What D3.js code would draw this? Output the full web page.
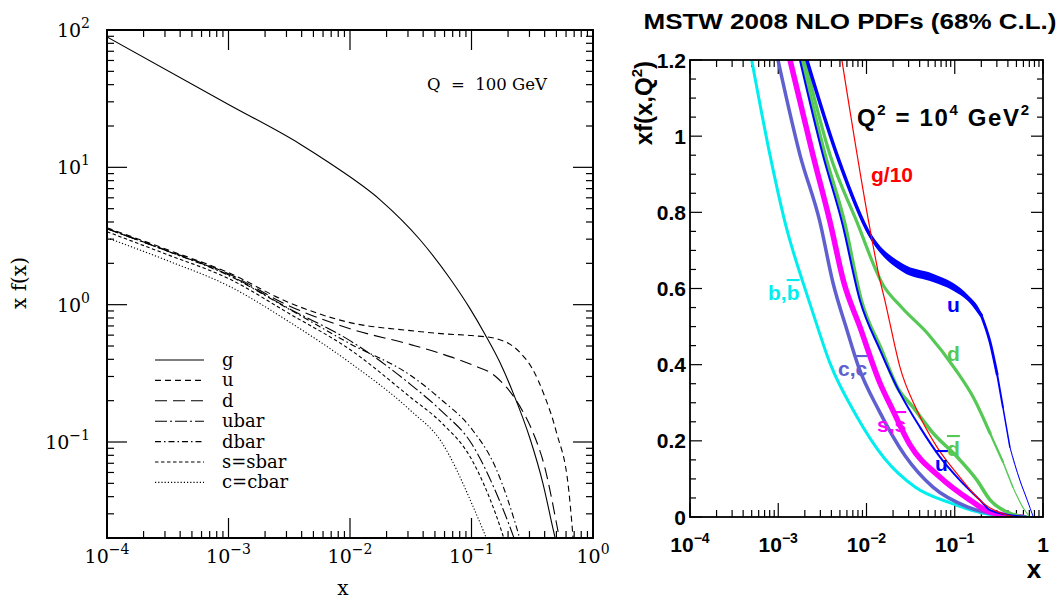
<!DOCTYPE html>
<html><head><meta charset="utf-8">
<script src="https://cdn.jsdelivr.net/npm/d3@7"></script>
<style>body{margin:0;background:#fff}</style></head>
<body><svg id="c" width="1061" height="599"></svg>
<script>
// ---------------- LEFT PANEL DATA (Q = 100 GeV) ----------------
const gLeftX   = [1e-4, 1e-3, 3.87e-3, 6.84e-3, 0.0177, 0.0377, 0.0665, 0.0972, 0.129, 0.1716, 0.2196, 0.303, 0.388, 0.469, 0.535];
const gVals    = [89, 28.7, 14.8, 10.7, 5.8, 2.97, 1.55, 0.936, 0.61, 0.379, 0.229, 0.106, 0.0496, 0.0233, 0.014];
const leftX    = [1e-4, 3.16e-4, 1e-3, 3.16e-3, 0.01, 0.0316, 0.0562, 0.1, 0.158, 0.251, 0.316, 0.398, 0.501, 0.631, 0.708];
const uVals    = [3.63, 2.51, 1.71, 1.035, 0.74, 0.647, 0.615, 0.596, 0.567, 0.448, 0.343, 0.218, 0.117, 0.045, 0.014];
const dVals    = [3.57, 2.47, 1.68, 0.98, 0.668, 0.512, 0.44, 0.366, 0.30, 0.181, 0.121, 0.067, 0.0255, 0.008, 0.004];
const ubarVals = [3.57, 2.45, 1.65, 0.935, 0.547, 0.262, 0.169, 0.0975, 0.0436, 0.015, 0.008, 0.004, 0.002, 0.001, 0.001];
const dbarVals = [3.57, 2.45, 1.63, 0.926, 0.52, 0.305, 0.204, 0.125, 0.065, 0.0195, 0.009, 0.004, 0.002, 0.001, 0.001];
const sVals    = [3.40, 2.31, 1.55, 0.861, 0.471, 0.211, 0.139, 0.075, 0.030, 0.008, 0.004, 0.002, 0.001, 0.001, 0.001];
const cVals    = [3.07, 2.09, 1.37, 0.75, 0.378, 0.169, 0.101, 0.036, 0.0129, 0.003, 0.002, 0.001, 0.001, 0.001, 0.001];
const leftNames = ["g", "u", "d", "ubar", "dbar", "s=sbar", "c=cbar"];
const leftXTickLabels = ["−4", "−3", "−2", "−1", "0"];
const leftYTickLabels = ["2", "1", "0", "−1"];

// ---------------- RIGHT PANEL DATA (Q^2 = 10^4 GeV^2) ----------------
const bX = [5.0e-4, 8.05e-4, 1.245e-3, 1.905e-3, 2.47e-3, 3.855e-3, 7.59e-3, 0.01585, 0.0355, 0.0891, 0.1995, 0.447];
const bY = [1.2, 0.951, 0.757, 0.616, 0.536, 0.404, 0.268, 0.155, 0.079, 0.037, 0.011, 0];
const cX = [9.93e-4, 1.762e-3, 2.965e-3, 4.17e-3, 6.0e-3, 8.13e-3, 0.0138, 0.0275, 0.0562, 0.141, 0.316, 0.631];
const cY = [1.2, 0.951, 0.775, 0.615, 0.491, 0.394, 0.28, 0.16, 0.079, 0.026, 0.006, 0];
const sX = [1.36e-3, 2.47e-3, 3.86e-3, 5.55e-3, 8.4e-3, 0.0142, 0.0199, 0.031, 0.0678, 0.148, 0.251, 0.589];
const sY = [1.2, 0.951, 0.775, 0.615, 0.5, 0.352, 0.28, 0.19, 0.105, 0.045, 0.013, 0];
const ubarX = [1.76e-3, 3.2e-3, 5.26e-3, 8.4e-3, 0.0142, 0.0239, 0.0403, 0.0678, 0.114, 0.192, 0.251, 0.447, 0.708];
const ubarY = [1.2, 0.951, 0.775, 0.570, 0.439, 0.326, 0.236, 0.158, 0.097, 0.045, 0.018, 0.004, 0];
const dbarX = [1.86e-3, 3.39e-3, 5.62e-3, 8.7e-3, 0.0148, 0.0224, 0.0335, 0.0565, 0.106, 0.178, 0.251, 0.398, 0.631];
const dbarY = [1.2, 0.951, 0.775, 0.570, 0.439, 0.34, 0.289, 0.221, 0.158, 0.097, 0.045, 0.012, 0];
const dX = [2.0e-3, 3.86e-3, 7.78e-3, 0.01535, 0.0251, 0.0501, 0.1, 0.166, 0.251, 0.351, 0.455, 0.589, 0.708];
const dY = [1.2, 0.951, 0.775, 0.61, 0.55, 0.48, 0.39, 0.31, 0.22, 0.145, 0.079, 0.026, 0];
const uX = [2.11e-3, 4.62e-3, 0.0109, 0.0258, 0.0565, 0.0951, 0.141, 0.1995, 0.251, 0.302, 0.351, 0.421, 0.546, 0.661, 0.776];
const uY = [1.2, 0.951, 0.741, 0.654, 0.628, 0.605, 0.575, 0.53, 0.46, 0.375, 0.289, 0.184, 0.097, 0.045, 0];
const uErr = [0.004, 0.005, 0.008, 0.011, 0.011, 0.010, 0.008, 0.006, 0.004, 0.003, 0.002, 0.001, 0.001, 0.0005, 0];
const gX = [5.26e-3, 0.0109, 0.0142, 0.0161, 0.0184, 0.0239, 0.0372, 0.0627, 0.114, 0.208, 0.355, 0.501];
const gY = [1.2, 0.759, 0.622, 0.570, 0.509, 0.394, 0.281, 0.184, 0.105, 0.037, 0.008, 0];
const rightYTickLabels = ["0", "0.2", "0.4", "0.6", "0.8", "1", "1.2"];
const rightXTickLabels = ["−4", "−3", "−2", "−1", ""];

// ---------------- DRAWING ----------------
const svg = d3.select("#c");
const SERIF = "'DejaVu Serif', serif";
const SANS = "'Liberation Sans', Arial, sans-serif";

function isDecade(v){ const l = Math.log10(v); return Math.abs(l - Math.round(l)) < 1e-9; }

// ===== LEFT =====
const L = {x0:107, x1:593, y0:30, y1:538};
const lx = d3.scaleLog().domain([1e-4, 1]).range([L.x0, L.x1]);
const ly = d3.scaleLog().domain([0.02, 100]).range([L.y1, L.y0]);
const gl = svg.append("g");
gl.append("clipPath").attr("id","clipL").append("rect")
  .attr("x", L.x0).attr("y", L.y0).attr("width", L.x1-L.x0).attr("height", L.y1-L.y0);

lx.ticks().forEach(v => {
  const X = lx(v), len = isDecade(v) ? 20 : 7;
  gl.append("line").attr("x1",X).attr("x2",X).attr("y1",L.y1).attr("y2",L.y1-len).attr("stroke","#000").attr("stroke-width",1.2);
  gl.append("line").attr("x1",X).attr("x2",X).attr("y1",L.y0).attr("y2",L.y0+len).attr("stroke","#000").attr("stroke-width",1.2);
});
ly.ticks().forEach(v => {
  const Y = ly(v), len = isDecade(v) ? 20 : 7;
  gl.append("line").attr("x1",L.x0).attr("x2",L.x0+len).attr("y1",Y).attr("y2",Y).attr("stroke","#000").attr("stroke-width",1.2);
  gl.append("line").attr("x1",L.x1).attr("x2",L.x1-len).attr("y1",Y).attr("y2",Y).attr("stroke","#000").attr("stroke-width",1.2);
});
gl.append("rect").attr("x",L.x0).attr("y",L.y0).attr("width",L.x1-L.x0).attr("height",L.y1-L.y0)
  .attr("fill","none").attr("stroke","#000").attr("stroke-width",2);

[1e-4, 1e-3, 1e-2, 1e-1, 1].forEach((v,i) => {
  const t = gl.append("text").attr("x", lx(v)).attr("y", 563).attr("text-anchor","middle")
    .attr("font-family", SERIF).attr("font-size", 19);
  t.append("tspan").text("10");
  t.append("tspan").attr("dy", -9).attr("font-size", 14).text(leftXTickLabels[i]);
});
[100, 10, 1, 0.1].forEach((v,i) => {
  const t = gl.append("text").attr("x", 90).attr("y", ly(v)+7).attr("text-anchor","end")
    .attr("font-family", SERIF).attr("font-size", 19);
  t.append("tspan").text("10");
  t.append("tspan").attr("dy", -9).attr("font-size", 14).text(leftYTickLabels[i]);
});
gl.append("text").attr("x", 343).attr("y", 595).attr("text-anchor","middle")
  .attr("font-family", SERIF).attr("font-size", 20).text("x");
gl.append("text").attr("transform","translate(26,283) rotate(-90)").attr("text-anchor","middle")
  .attr("font-family", SERIF).attr("font-size", 20).text("x f(x)");
gl.append("text").attr("x", 427).attr("y", 90)
  .attr("font-family", SERIF).attr("font-size", 16.5).attr("xml:space","preserve").text("Q  =  100 GeV");

const leftDash = ["", "6,4", "12,6", "12,3,2,3", "6,3,1.5,3", "3.5,2.5", "1.2,2"];
const lineL = d3.line().x(d => lx(d[0])).y(d => ly(d[1])).curve(d3.curveMonotoneX);
const leftSeries = [
  gLeftX.map((x,k) => [x, gVals[k]]),
  leftX.map((x,k) => [x, uVals[k]]),
  leftX.map((x,k) => [x, dVals[k]]),
  leftX.map((x,k) => [x, ubarVals[k]]),
  leftX.map((x,k) => [x, dbarVals[k]]),
  leftX.map((x,k) => [x, sVals[k]]),
  leftX.map((x,k) => [x, cVals[k]])
];
leftSeries.forEach((pts, i) => {
  gl.append("path").attr("clip-path","url(#clipL)")
    .attr("d", lineL(pts))
    .attr("fill","none").attr("stroke","#000").attr("stroke-width",1.1)
    .attr("stroke-dasharray", leftDash[i] || null);
});
leftNames.forEach((n, i) => {
  const Y = 360 + i*20.4;
  gl.append("line").attr("x1",155).attr("x2",204).attr("y1",Y).attr("y2",Y)
    .attr("stroke","#000").attr("stroke-width",1.1).attr("stroke-dasharray", leftDash[i] || null);
  gl.append("text").attr("x",222).attr("y",Y+6).attr("font-family",SERIF).attr("font-size",18).text(n);
});

// ===== RIGHT =====
const R = {x0:690, x1:1043, y0:60, y1:517};
const rx = d3.scaleLog().domain([1e-4, 1]).range([R.x0, R.x1]);
const ry = d3.scaleLinear().domain([0, 1.2]).range([R.y1, R.y0]);
const gr = svg.append("g");
gr.append("clipPath").attr("id","clipR").append("rect")
  .attr("x", R.x0).attr("y", R.y0).attr("width", R.x1-R.x0).attr("height", R.y1-R.y0);

gr.append("text").attr("x", 850).attr("y", 29).attr("text-anchor","middle")
  .attr("font-family", SANS).attr("font-weight","bold").attr("font-size", 22)
  .attr("textLength", 413).attr("lengthAdjust","spacingAndGlyphs")
  .text("MSTW 2008 NLO PDFs (68% C.L.)");

rx.ticks().forEach(v => {
  const X = rx(v), len = isDecade(v) ? 14 : 7;
  gr.append("line").attr("x1",X).attr("x2",X).attr("y1",R.y1).attr("y2",R.y1-len).attr("stroke","#000").attr("stroke-width",1.2);
  gr.append("line").attr("x1",X).attr("x2",X).attr("y1",R.y0).attr("y2",R.y0+len).attr("stroke","#000").attr("stroke-width",1.2);
});
d3.range(0, 1.2001, 0.05).forEach(v => {
  const Y = ry(v), major = Math.abs(v/0.2 - Math.round(v/0.2)) < 1e-6, len = major ? 12 : 6;
  gr.append("line").attr("x1",R.x0).attr("x2",R.x0+len).attr("y1",Y).attr("y2",Y).attr("stroke","#000").attr("stroke-width",1.2);
  gr.append("line").attr("x1",R.x1).attr("x2",R.x1-len).attr("y1",Y).attr("y2",Y).attr("stroke","#000").attr("stroke-width",1.2);
});

rightYTickLabels.forEach((s, i) => {
  gr.append("text").attr("x", 686).attr("y", ry(i*0.2)+7.5).attr("text-anchor","end")
    .attr("font-family", SANS).attr("font-weight","bold").attr("font-size", 21).text(s);
});
[1e-4, 1e-3, 1e-2, 1e-1, 1].forEach((v, i) => {
  const t = gr.append("text").attr("x", rx(v)).attr("y", 552).attr("text-anchor","middle")
    .attr("font-family", SANS).attr("font-weight","bold").attr("font-size", 21);
  if (rightXTickLabels[i]) {
    t.append("tspan").text("10");
    t.append("tspan").attr("dy",-9).attr("font-size",14).text(rightXTickLabels[i]);
  } else t.text("1");
});
gr.append("text").attr("x", 1034).attr("y", 578).attr("text-anchor","middle")
  .attr("font-family", SANS).attr("font-weight","bold").attr("font-size", 26).text("x");
{
  const t = gr.append("text").attr("transform","translate(652,61) rotate(-90)").attr("text-anchor","end")
    .attr("font-family", SANS).attr("font-weight","bold").attr("font-size", 24);
  t.append("tspan").text("xf(x,Q");
  t.append("tspan").attr("dy",-10).attr("font-size",15).text("2");
  t.append("tspan").attr("dy",10).text(")");
}
{
  const t = gr.append("text").attr("x", 857).attr("y", 126)
    .attr("font-family", SANS).attr("font-weight","bold").attr("font-size", 24).attr("xml:space","preserve")
    .attr("textLength", 172).attr("lengthAdjust","spacing");
  t.append("tspan").text("Q");
  t.append("tspan").attr("dy",-11).attr("font-size",15).text("2");
  t.append("tspan").attr("dy",11).text(" = 10");
  t.append("tspan").attr("dy",-11).attr("font-size",15).text("4");
  t.append("tspan").attr("dy",11).text(" GeV");
  t.append("tspan").attr("dy",-11).attr("font-size",15).text("2");
}

const lineR = d3.line().x(d => rx(d[0])).y(d => ry(d[1])).curve(d3.curveMonotoneX);
const areaR = d3.area().x(d => rx(d[0])).y0(d => ry(d[1]-d[2])).y1(d => ry(d[1]+d[2])).curve(d3.curveMonotoneX);
const cp = gr.append("g").attr("clip-path","url(#clipR)");
// segs: list of [xFrom, xTo, width]
function drawR(xs, ys, color, segs){
  const pts = xs.map((x,k) => [x, ys[k]]);
  segs.forEach(([a, b, w]) => {
    const sub = pts.filter(p => p[0] >= a && p[0] <= b);
    cp.append("path").attr("d", lineR(sub)).attr("fill","none").attr("stroke",color)
      .attr("stroke-width",w).attr("stroke-linejoin","round").attr("stroke-linecap","round");
  });
}
const CYAN = "#00eeee", SLATE = "#5f5fd0", MAG = "#ff00ff", BLUE = "#0000ff", GREEN = "#55c855", RED = "#ff0000";
drawR(bX, bY, CYAN, [[0, 1, 3]]);
drawR(cX, cY, SLATE, [[0, 1, 3.5]]);
drawR(sX, sY, MAG, [[0, 1, 5.5]]);
drawR(dbarX, dbarY, GREEN, [[0, 1, 3.6]]);
drawR(ubarX, ubarY, BLUE, [[0, 1, 2]]);
drawR(dX, dY, GREEN, [[0, 0.251, 3.2], [0.251, 0.351, 2.2], [0.351, 0.455, 1.5], [0.455, 1, 1.1]]);
cp.append("path").attr("d", areaR(uX.map((x,k) => [x, uY[k], uErr[k]]))).attr("fill", BLUE);
drawR(uX, uY, BLUE, [[0, 0.1995, 3.5], [0.1995, 0.302, 2.8], [0.302, 0.351, 2], [0.351, 0.421, 1.5], [0.421, 1, 1]]);
drawR(gX, gY, RED, [[0, 1, 1.2]]);

gr.append("rect").attr("x",R.x0).attr("y",R.y0).attr("width",R.x1-R.x0).attr("height",R.y1-R.y0)
  .attr("fill","none").attr("stroke","#000").attr("stroke-width",1.8);

function lab(x, y, color, parts){
  const t = gr.append("text").attr("x",x).attr("y",y).attr("fill",color)
    .attr("font-family",SANS).attr("font-weight","bold").attr("font-size",21);
  parts.forEach(p => {
    const s = t.append("tspan").text(p[0]);
    if (p[1]) s.style("text-decoration","overline");
  });
}
lab(871, 182, RED, [["g/10"]]);
lab(768, 300, CYAN, [["b,"],["b",1]]);
lab(838, 376, SLATE, [["c,"],["c",1]]);
lab(877, 432, MAG, [["s,"],["s",1]]);
lab(947, 312, BLUE, [["u"]]);
lab(947, 361, GREEN, [["d"]]);
lab(947, 456, GREEN, [["d",1]]);
lab(935, 471, BLUE, [["u",1]]);
</script></body></html>
